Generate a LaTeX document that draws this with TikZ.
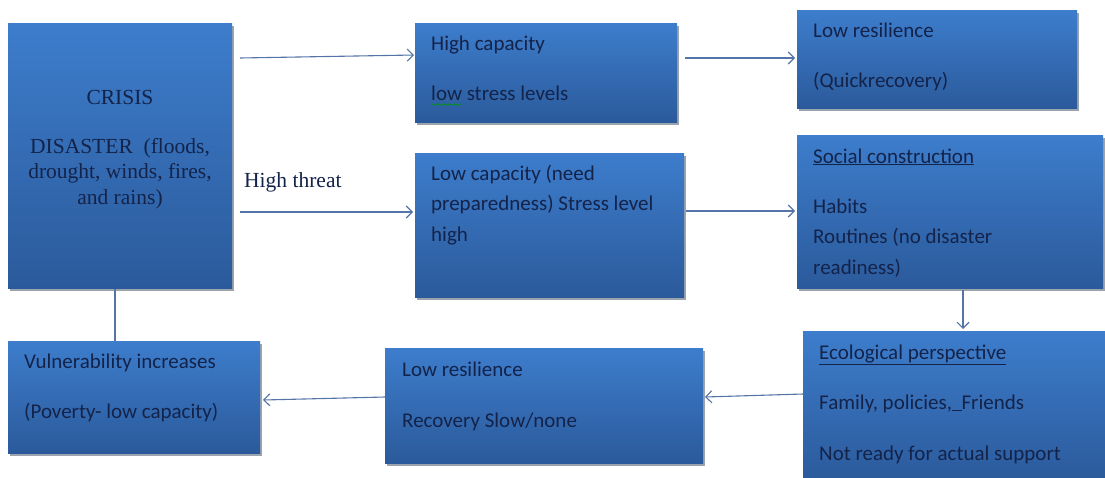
\documentclass[tikz,border=0pt]{standalone}
\usepackage{fontspec}
\setmainfont{Carlito}
\newfontfamily\serifrm{Liberation Serif}
\usetikzlibrary{arrows.meta,shadows,decorations.pathmorphing}
\definecolor{boxtop}{HTML}{3D7DCC}
\definecolor{boxbot}{HTML}{2B5A9B}
\definecolor{txtc}{HTML}{13234A}
\definecolor{arrc}{HTML}{5575A8}
\definecolor{shadc}{HTML}{9AA3AE}
\tikzset{
  box/.style={anchor=north west, inner sep=0pt, draw=none,
    top color=boxtop, bottom color=boxbot,
    drop shadow={shadow xshift=1.5pt, shadow yshift=-3pt, fill=shadc, opacity=1}},
  txt/.style={anchor=base west, inner sep=0pt, text=txtc,
    font=\fontsize{21}{25}\selectfont},
  stxt/.style={anchor=base, inner sep=0pt, text=txtc,
    font=\serifrm\fontsize{21.5}{25}\selectfont},
  arr/.style={draw=arrc, line width=1.1pt, -{Straight Barb[length=6pt,width=12pt,line width=1.1pt]}},
  lin/.style={draw=arrc, line width=1.1pt}
}
\begin{document}
\begin{tikzpicture}[x=1pt,y=-1pt]
\useasboundingbox (0,0) rectangle (1105,477);
\fill[white] (0,0) rectangle (1105,477);
% boxes
\node[box, minimum width=224pt, minimum height=265pt] (crisis) at (8,23) {};
\node[box, minimum width=262pt, minimum height=99pt] (hc) at (415,23) {};
\node[box, minimum width=280pt, minimum height=98pt] (lrt) at (797,10) {};
\node[box, minimum width=269pt, minimum height=144pt] (lc) at (415,153) {};
\node[box, minimum width=306pt, minimum height=153pt] (sc) at (797,135) {};
\node[box, minimum width=310pt, minimum height=150pt] (ep) at (803,331) {};
\node[box, minimum width=318pt, minimum height=115pt] (lrb) at (385,348) {};
\node[box, minimum width=252pt, minimum height=112pt] (vul) at (8,341) {};
% texts crisis
\node[stxt] (c1) at (120,104) {CRISIS};
\node[stxt] (c2) at (120,153) {DISASTER\ \ (floods,};
\node[stxt] (c3) at (120,178) {drought, winds, fires,};
\node[stxt] (c4) at (120,204) {and rains)};
\node[stxt, anchor=base west] (ht) at (244,187) {High threat};
% high capacity
\node[txt] (hc1) at (431,50) {High capacity};
\node[txt] (hc2) at (431,100) {low stress levels};
\draw[green!60!black, line width=0.6pt, decorate, decoration={snake, amplitude=0.7pt, segment length=3pt}] (432,104.5) -- (461,104.5);
% low resilience top
\node[txt] (lt1) at (813,37) {Low resilience};
\node[txt] (lt2) at (813,87) {(Quickrecovery)};
% low capacity
\node[txt] (lc1) at (431,180) {Low capacity (need};
\node[txt] (lc2) at (431,210) {preparedness) Stress level};
\node[txt] (lc3) at (431,241) {high};
% social construction
\node[txt] (sc1) at (813,163) {\underline{Social construction}};
\node[txt] (sc2) at (813,213) {Habits};
\node[txt] (sc3) at (813,243) {Routines (no disaster};
\node[txt] (sc4) at (813,274) {readiness)};
% ecological
\node[txt] (ep1) at (819,359) {\underline{Ecological perspective}};
\node[txt] (ep2) at (819,409) {Family, policies,\underline{\hspace{0.45em}}Friends};
\node[txt] (ep3) at (819,460) {Not ready for actual support};
% low resilience bottom
\node[txt] (lb1) at (402,376) {Low resilience};
\node[txt] (lb2) at (402,427) {Recovery Slow/none};
% vulnerability
\node[txt] (v1) at (24,368) {Vulnerability increases};
\node[txt] (v2) at (24,418) {(Poverty- low capacity)};
% connector end points
\coordinate (a1s) at (240,58);
\coordinate (a1e) at (414,55);
\coordinate (a2s) at (240,212);
\coordinate (a2e) at (413,212);
\coordinate (a3s) at (685,58);
\coordinate (a3e) at (795,58);
\coordinate (a4s) at (686,211);
\coordinate (a4e) at (795,211);
\coordinate (a5s) at (963,290);
\coordinate (a5e) at (963,329);
\coordinate (a6s) at (803,394);
\coordinate (a6e) at (705,397);
\coordinate (a7s) at (385,397);
\coordinate (a7e) at (263,400);
\coordinate (l8s) at (115,289);
\coordinate (l8e) at (115,341);
\draw[arr] (a1s) -- (a1e);
\draw[arr] (a2s) -- (a2e);
\draw[arr] (a3s) -- (a3e);
\draw[arr] (a4s) -- (a4e);
\draw[arr] (a5s) -- (a5e);
\draw[arr] (a6s) -- (a6e);
\draw[arr] (a7s) -- (a7e);
\draw[lin] (l8s) -- (l8e);
\end{tikzpicture}
\end{document}
